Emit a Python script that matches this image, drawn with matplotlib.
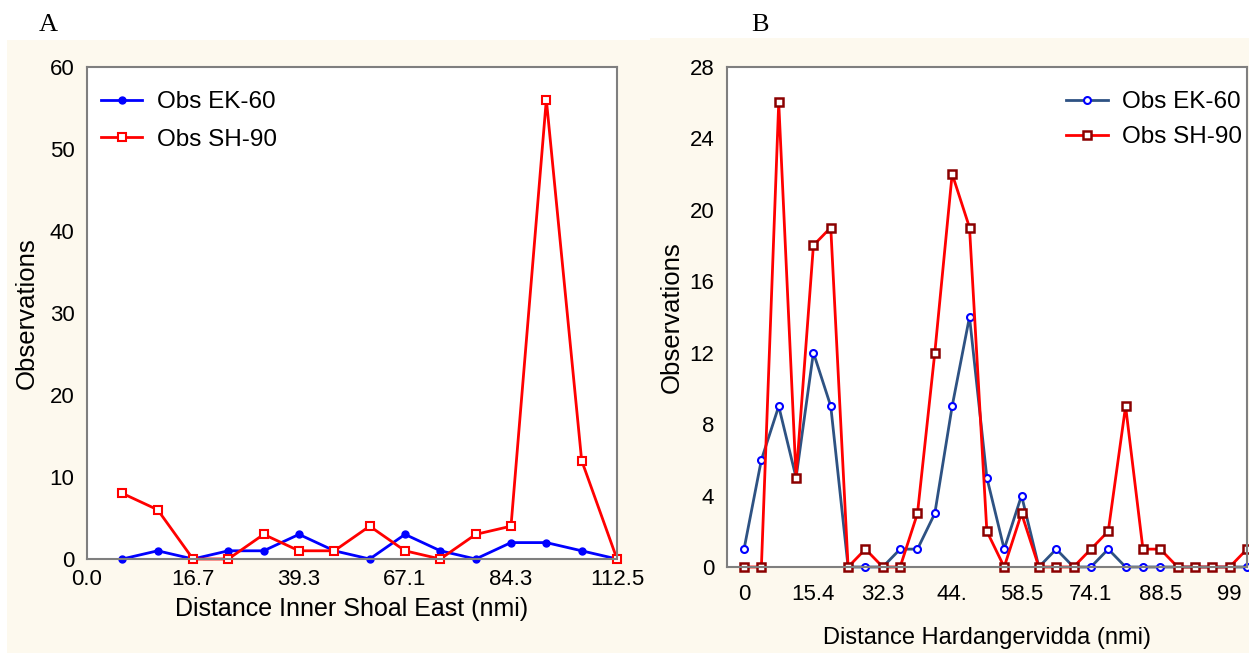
import matplotlib.pyplot as plt
from matplotlib.patches import Rectangle

plt.rcParams["font.family"] = ["Liberation Sans", "DejaVu Sans"]

# Panel A - Inner Shoal East
a_pos = list(range(1, 16))
a_ek60 = [0, 1, 0, 1, 1, 3, 1, 0, 3, 1, 0, 2, 2, 1, 0]
a_sh90 = [8, 6, 0, 0, 3, 1, 1, 4, 1, 0, 3, 4, 56, 12, 0]
a_ticks = [0, 3, 6, 9, 12, 15]
a_ticklabels = ["0.0", "16.7", "39.3", "67.1", "84.3", "112.5"]

# Panel B - Hardangervidda
b_pos = list(range(1, 31))
b_ek60 = [1, 6, 9, 5, 12, 9, 0, 0, 0, 1, 1, 3, 9, 14, 5,
          1, 4, 0, 1, 0, 0, 1, 0, 0, 0, 0, 0, 0, 0, 0]
b_sh90 = [0, 0, 26, 5, 18, 19, 0, 1, 0, 0, 3, 12, 22, 19, 2,
          0, 3, 0, 0, 0, 1, 2, 9, 1, 1, 0, 0, 0, 0, 1]
b_ticks = [1, 5, 9, 13, 17, 21, 25, 29]
b_ticklabels = ["0", "15.4", "32.3", "44.", "58.5", "74.1", "88.5", "99"]

cream = "#FDF9EE"
frame = "#7F7F7F"

fig = plt.figure(figsize=(12.49, 6.53), dpi=100)
fig.patch.set_facecolor("white")

# cream panels behind each chart
fig.patches.append(Rectangle((7 / 1249, 0), 643 / 1249, 613 / 653,
                             transform=fig.transFigure, facecolor=cream,
                             edgecolor="none", zorder=-10))
fig.patches.append(Rectangle((650 / 1249, 0), 599 / 1249, 615 / 653,
                             transform=fig.transFigure, facecolor=cream,
                             edgecolor="none", zorder=-10))

axA = fig.add_axes([87 / 1249, 94 / 653, 530 / 1249, 492.3 / 653])
axB = fig.add_axes([726.7 / 1249, 86 / 653, 520.3 / 1249, 500.3 / 653])


def style(ax):
    ax.set_facecolor("white")
    for s in ax.spines.values():
        s.set_color(frame)
        s.set_linewidth(1.5)
    ax.tick_params(length=0, labelsize=16, colors="black")
    ax.tick_params(axis="y", pad=9)


# A
axA.plot(a_pos, a_ek60, color="#0000FF", lw=2, marker="o", ms=5,
         mfc="#0000FF", mec="#0000FF", clip_on=False, label="Obs EK-60")
axA.plot(a_pos, a_sh90, color="#FF0000", lw=2, marker="s", ms=6,
         mfc="white", mec="#FF0000", mew=1.5, clip_on=False, label="Obs SH-90")
axA.set_xlim(0, 15)
axA.set_ylim(0, 60)
axA.set_yticks(range(0, 61, 10))
axA.set_xticks(a_ticks)
axA.set_xticklabels(a_ticklabels)
axA.tick_params(axis="x", pad=7)
axA.set_xlabel("Distance Inner Shoal East (nmi)", fontsize=18, labelpad=5)
axA.set_ylabel("Observations", fontsize=18.5, labelpad=8)
style(axA)
axA.legend(loc="upper left", frameon=False, fontsize=17.5, handlelength=1.7,
           handletextpad=0.6, labelspacing=0.65, bbox_to_anchor=(-0.015, 0.995))

# B
axB.plot(b_pos, b_ek60, color="#2E5283", lw=2, marker="o", ms=5,
         mfc="white", mec="#0000FF", mew=1.5, clip_on=False, label="Obs EK-60")
axB.plot(b_pos, b_sh90, color="#FF0000", lw=2, marker="s", ms=6,
         mfc="white", mec="#8B0000", mew=1.8, clip_on=False, label="Obs SH-90")
axB.set_xlim(0, 30)
axB.set_ylim(0, 28)
axB.set_yticks(range(0, 29, 4))
axB.set_xticks(b_ticks)
axB.set_xticklabels(b_ticklabels)
axB.tick_params(axis="x", pad=12)
axB.set_xlabel("Distance Hardangervidda (nmi)", fontsize=17, labelpad=16)
axB.set_ylabel("Observations", fontsize=18.5, labelpad=4)
style(axB)
axB.legend(loc="upper right", frameon=False, fontsize=17.5, handlelength=1.7,
           handletextpad=0.6, labelspacing=0.55, bbox_to_anchor=(1.033, 0.995))

fig.text(48 / 1249, 1 - 25 / 653, "A", family="Liberation Serif", fontsize=19,
         ha="center", va="center")
fig.text(760 / 1249, 1 - 25 / 653, "B", family="Liberation Serif", fontsize=19,
         ha="center", va="center")

fig.savefig("out.png", dpi=100)
